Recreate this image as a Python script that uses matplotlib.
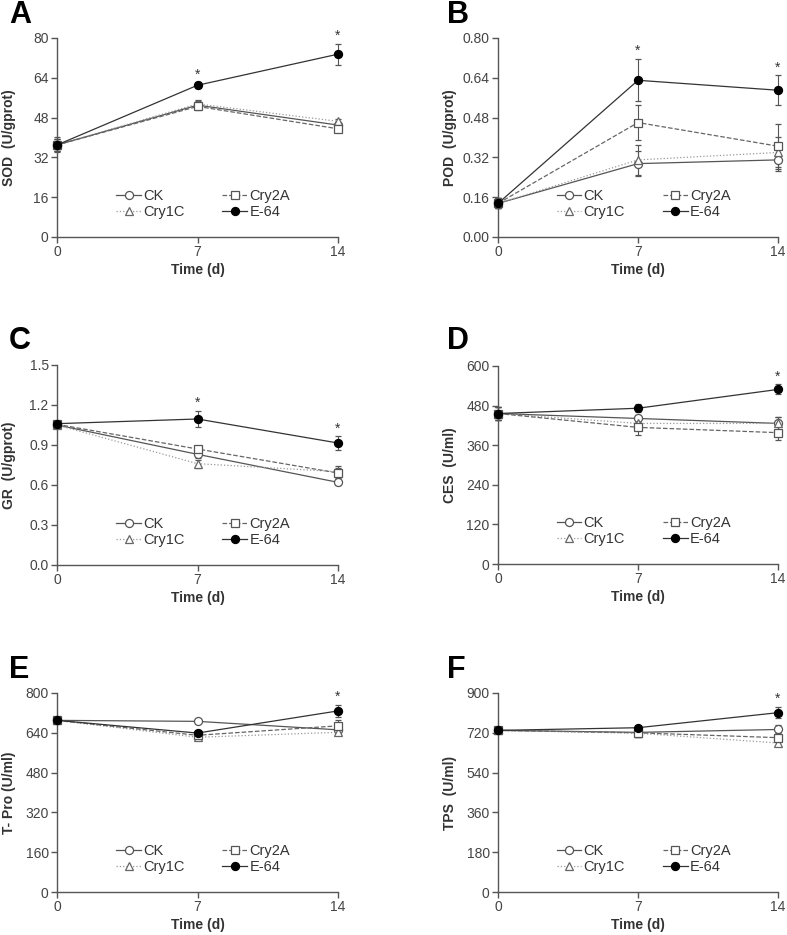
import matplotlib.pyplot as plt
from matplotlib.lines import Line2D

plt.rcParams['font.family'] = ['Liberation Sans', 'DejaVu Sans']

# sampling days
days = [0, 7, 14]
groups = ['CK', 'Cry1C', 'Cry2A', 'E-64']

# A: SOD (U/gprot)
sod_ck = [37, 53, 45]
sod_cry1c = [37, 53.5, 46.5]
sod_cry2a = [37, 52.5, 43.5]
sod_e64 = [37, 61, 73.5]
sod_ck_err = [2.5, 1.5, 1.0]
sod_cry1c_err = [2.5, 1.5, 1.0]
sod_cry2a_err = [2.5, 1.5, 1.0]
sod_e64_err = [3.0, 1.2, 4.2]

# B: POD (U/gprot)
pod_ck = [0.135, 0.295, 0.31]
pod_cry1c = [0.135, 0.31, 0.34]
pod_cry2a = [0.135, 0.46, 0.365]
pod_e64 = [0.135, 0.63, 0.59]
pod_ck_err = [0.02, 0.05, 0.045]
pod_cry1c_err = [0.02, 0.06, 0.06]
pod_cry2a_err = [0.02, 0.07, 0.09]
pod_e64_err = [0.02, 0.085, 0.06]

# C: GR (U/gprot)
gr_ck = [1.05, 0.83, 0.62]
gr_cry1c = [1.05, 0.76, 0.70]
gr_cry2a = [1.055, 0.87, 0.69]
gr_e64 = [1.06, 1.095, 0.915]
gr_ck_err = [0.02, 0.03, 0.02]
gr_cry1c_err = [0.02, 0.03, 0.04]
gr_cry2a_err = [0.02, 0.02, 0.04]
gr_e64_err = [0.02, 0.06, 0.05]

# D: CES (U/ml)
ces_ck = [456, 441, 426]
ces_cry1c = [456, 426, 426]
ces_cry2a = [456, 414, 398]
ces_e64 = [456, 472, 529]
ces_ck_err = [20, 12, 20]
ces_cry1c_err = [20, 15, 20]
ces_cry2a_err = [20, 22, 22]
ces_e64_err = [20, 12, 15]

# E: T-Pro (U/ml)
tpro_ck = [690, 686, 652]
tpro_cry1c = [690, 622, 642]
tpro_cry2a = [690, 630, 668]
tpro_e64 = [690, 639, 728]
tpro_ck_err = [8, 8, 10]
tpro_cry1c_err = [8, 10, 10]
tpro_cry2a_err = [8, 10, 25]
tpro_e64_err = [8, 12, 25]

# F: TPS (U/ml)
tps_ck = [731, 722, 735]
tps_cry1c = [731, 718, 674]
tps_cry2a = [731, 720, 698]
tps_e64 = [731, 743, 811]
tps_ck_err = [10, 20, 22]
tps_cry1c_err = [10, 15, 15]
tps_cry2a_err = [10, 15, 20]
tps_e64_err = [10, 10, 25]

panels = [
    ('A', 'SOD  (U/gprot)', [0, 16, 32, 48, 64, 80], '{:.0f}',
     [sod_ck, sod_cry1c, sod_cry2a, sod_e64],
     [sod_ck_err, sod_cry1c_err, sod_cry2a_err, sod_e64_err], [7, 14]),
    ('B', 'POD  (U/gprot)', [0, 0.16, 0.32, 0.48, 0.64, 0.80], '{:.2f}',
     [pod_ck, pod_cry1c, pod_cry2a, pod_e64],
     [pod_ck_err, pod_cry1c_err, pod_cry2a_err, pod_e64_err], [7, 14]),
    ('C', 'GR  (U/gprot)', [0, 0.3, 0.6, 0.9, 1.2, 1.5], '{:.1f}',
     [gr_ck, gr_cry1c, gr_cry2a, gr_e64],
     [gr_ck_err, gr_cry1c_err, gr_cry2a_err, gr_e64_err], [7, 14]),
    ('D', 'CES  (U/ml)', [0, 120, 240, 360, 480, 600], '{:.0f}',
     [ces_ck, ces_cry1c, ces_cry2a, ces_e64],
     [ces_ck_err, ces_cry1c_err, ces_cry2a_err, ces_e64_err], [14]),
    ('E', 'T- Pro (U/ml)', [0, 160, 320, 480, 640, 800], '{:.0f}',
     [tpro_ck, tpro_cry1c, tpro_cry2a, tpro_e64],
     [tpro_ck_err, tpro_cry1c_err, tpro_cry2a_err, tpro_e64_err], [14]),
    ('F', 'TPS  (U/ml)', [0, 180, 360, 540, 720, 900], '{:.0f}',
     [tps_ck, tps_cry1c, tps_cry2a, tps_e64],
     [tps_ck_err, tps_cry1c_err, tps_cry2a_err, tps_e64_err], [14]),
]

styles = {
    'CK': dict(ls='-', marker='o', mfc='white', mec='#555555', color='#555555'),
    'Cry1C': dict(ls=':', marker='^', mfc='white', mec='#666666', color='#999999'),
    'Cry2A': dict(ls='--', marker='s', mfc='white', mec='#555555', color='#666666'),
    'E-64': dict(ls='-', marker='o', mfc='black', mec='black', color='#333333'),
}
MS = 5.8

W, H = 787, 935
fig = plt.figure(figsize=(W / 100, H / 100), dpi=100)

# axes boxes in pixels: left, top, right, bottom
boxes = [(57, 38, 338, 237), (498, 38, 778, 237),
         (57, 365, 338, 565), (498, 366, 778, 564),
         (57, 693, 338, 892), (498, 693, 778, 892)]
letter_pos = [(9, 15), (447, 15), (9, 341), (447, 341), (9, 670), (447, 670)]

gray = '#555555'
for (letter, ylab, yticks, fmt, series, errs, stars), (l, t, r, b), (lx, ly) in zip(panels, boxes, letter_pos):
    ax = fig.add_axes([l / W, 1 - b / H, (r - l) / W, (b - t) / H])
    handles = []
    for g, vals, err in zip(groups, series, errs):
        st = styles[g]
        ax.errorbar(days, vals, yerr=err, ls=st['ls'], color=st['color'], lw=0.9,
                    marker=st['marker'], ms=MS, mfc=st['mfc'], mec=st['mec'], mew=0.9,
                    ecolor='#555555', elinewidth=0.8, capsize=2.5, capthick=0.8,
                    clip_on=False, zorder=3)
        handles.append(Line2D([], [], ls=st['ls'], color=st['color'], lw=0.9,
                              marker=st['marker'], ms=MS, mfc=st['mfc'],
                              mec=st['mec'], mew=0.9))
    e64 = series[3]
    e64e = errs[3]
    for d in stars:
        i = days.index(d)
        ax.text(d, e64[i] + e64e[i] + yticks[-1] * 0.005, '*', ha='center', va='bottom',
                fontsize=10, color='#333333')
    ax.set_xlim(0, 14)
    ax.set_ylim(0, yticks[-1])
    ax.set_xticks(days)
    ax.set_yticks(yticks)
    ax.set_yticklabels([fmt.format(v) for v in yticks])
    for s in ['top', 'right']:
        ax.spines[s].set_visible(False)
    for s in ['left', 'bottom']:
        ax.spines[s].set_color(gray)
        ax.spines[s].set_linewidth(1.0)
    ax.tick_params(direction='out', length=4, width=1.0, color=gray,
                   labelcolor='#444444', labelsize=10, pad=2)
    ax.set_xlabel('Time (d)', fontsize=10, fontweight='bold', color='#333333')
    ax.xaxis.set_label_coords(0.5, -0.13)
    ax.set_ylabel(ylab, fontsize=10, fontweight='bold', color='#333333')
    ax.yaxis.set_label_coords(-0.147, 0.5)
    leg = ax.legend(handles=handles, labels=groups, ncol=2, frameon=False, fontsize=10.5,
                    loc='center', bbox_to_anchor=(0.52, 0.165), handlelength=1.7,
                    handletextpad=0.15, columnspacing=2.6, labelspacing=0.15,
                    borderpad=0)
    for txt in leg.get_texts():
        txt.set_color('#333333')
    fig.text(lx / W, 1 - ly / H, letter, fontsize=22, fontweight='bold',
             ha='left', va='center')

fig.savefig('out.png', dpi=100)
